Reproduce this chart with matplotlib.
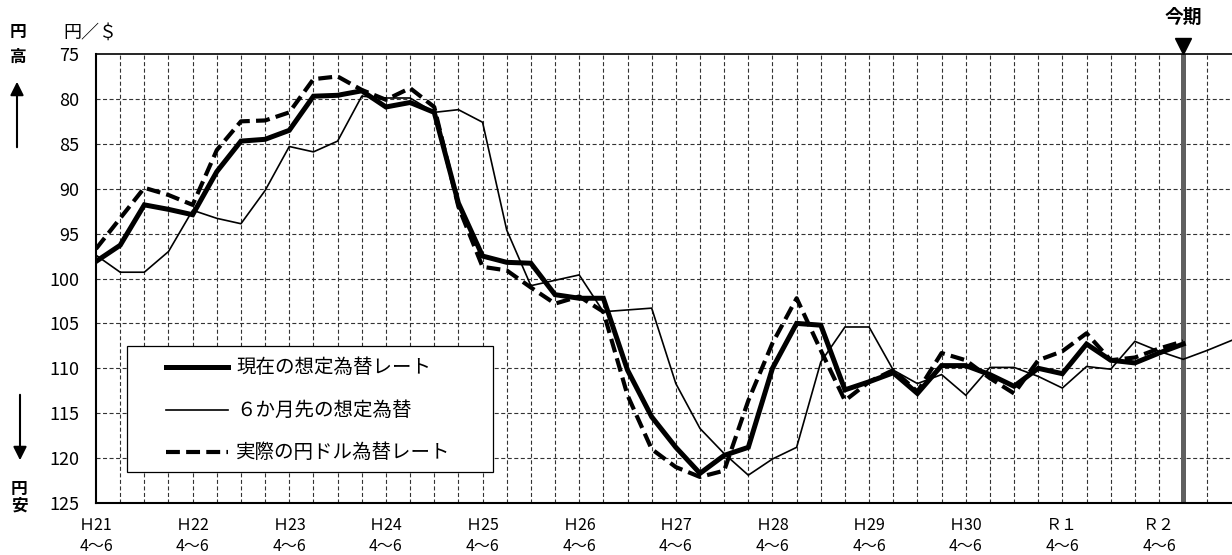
import matplotlib
matplotlib.use("Agg")
import matplotlib.pyplot as plt
from matplotlib.lines import Line2D
from matplotlib.patches import Rectangle

plt.rcParams['font.family'] = ['Noto Sans CJK JP', 'DejaVu Sans']
plt.rcParams['lines.scale_dashes'] = False

# ---- data (quarters from H21 4~6, index 0) ----
current_rate = [98.1, 96.3, 91.8, 92.3, 92.9, 88.1, 84.7, 84.5, 83.5, 79.7,
                79.6, 79.1, 80.9, 80.4, 81.5, 91.6, 97.5, 98.2, 98.3, 101.8,
                102.2, 102.2, 110.2, 115.4, 118.8, 121.7, 119.7, 118.8, 110.0, 105.0,
                105.2, 112.4, 111.5, 110.5, 112.8, 109.7, 109.7, 110.7, 112.0, 110.0,
                110.6, 107.3, 109.1, 109.4, 108.3, 107.3]
forecast_6m = [97.4, 99.3, 99.3, 97.0, 92.4, 93.3, 93.9, 90.2, 85.3, 85.9,
               84.7, 79.7, 79.9, 79.9, 81.5, 81.2, 82.6, 94.6, 100.8, 100.2,
               99.6, 103.7, 103.5, 103.3, 111.7, 116.7, 119.5, 121.9, 120.1, 118.8,
               109.3, 105.4, 105.4, 110.2, 111.7, 110.7, 113.0, 109.9, 109.9, 110.9,
               112.2, 109.8, 110.1, 107.0, 108.1, 109.0, 108.0, 106.9]
actual_rate = [96.7, 93.3, 89.9, 90.7, 91.8, 85.7, 82.5, 82.4, 81.5, 77.8,
               77.5, 79.0, 80.1, 78.8, 80.9, 92.0, 98.7, 99.1, 101.0, 102.8,
               102.0, 103.7, 113.0, 119.0, 121.0, 122.1, 121.4, 113.6, 107.2, 102.2,
               108.0, 113.6, 111.5, 110.2, 112.6, 108.3, 109.1, 111.1, 112.8, 109.1,
               108.1, 106.1, 109.1, 108.8, 107.8, 107.0]
tick_labels = ["Ｈ21\n4～6", "Ｈ22\n4～6", "Ｈ23\n4～6", "Ｈ24\n4～6", "Ｈ25\n4～6",
               "Ｈ26\n4～6", "Ｈ27\n4～6", "Ｈ28\n4～6", "Ｈ29\n4～6", "Ｈ30\n4～6",
               "Ｒ１\n4～6", "Ｒ２\n4～6"]
tick_positions = [0, 4, 8, 12, 16, 20, 24, 28, 32, 36, 40, 44]
current_period = 45
legend_labels = ["現在の想定為替レート", "６か月先の想定為替", "実際の円ドル為替レート"]

W, H = 1232, 555
fig = plt.figure(figsize=(W / 100, H / 100), dpi=100)
ax = fig.add_axes([96 / W, 1 - 503 / H, (1231.5 - 96) / W, (503 - 54) / H])

n_x = len(forecast_6m) - 1
ax.set_xlim(0, n_x)
ax.set_ylim(125, 75)

# grid
for k in range(1, n_x):
    ax.axvline(k, color='#333333', lw=0.8, dashes=(2.9, 1.8), zorder=1)
for v in range(80, 125, 5):
    ax.axhline(v, color='#333333', lw=0.8, dashes=(2.9, 1.8), zorder=1)

ax.axvline(current_period, color='#606060', lw=3.6, zorder=2)

x_cur = list(range(len(current_rate)))
x_fc = list(range(len(forecast_6m)))
x_act = list(range(len(actual_rate)))
ax.plot(x_fc, forecast_6m, color='black', lw=1.2, zorder=3, solid_joinstyle='miter')
ax.plot(x_act, actual_rate, color='black', lw=3.0, dashes=(10, 4.5), zorder=4)
ax.plot(x_cur, current_rate, color='black', lw=3.6, zorder=5, solid_joinstyle='miter')

ax.set_yticks(list(range(75, 126, 5)))
ax.set_xticks(tick_positions)
ax.set_xticklabels(tick_labels, fontsize=11.5, linespacing=1.35)
ax.tick_params(axis='y', length=0, pad=12, labelsize=13)
ax.tick_params(axis='x', length=0, pad=10)

for s in ['left', 'bottom']:
    ax.spines[s].set_linewidth(1.5)
ax.spines['top'].set_linewidth(1.2)
ax.spines['right'].set_visible(False)

# triangle marker for 今期
ax.plot([current_period], [75], marker='v', ms=12, color='black', clip_on=False,
        transform=ax.transData + matplotlib.transforms.ScaledTranslation(0, 8 / 100, fig.dpi_scale_trans),
        zorder=6)

# legend (manual, pixel-placed)
def axp(x, y):
    # figure pixel (top-left origin) -> axes fraction
    return ((x - 96) / (1231.5 - 96), (503 - y) / (503 - 54))

bx0, by0 = axp(127, 472)
bx1, by1 = axp(493, 346)
ax.add_patch(Rectangle((bx0, by0), bx1 - bx0, by1 - by0, transform=ax.transAxes,
                       facecolor='white', edgecolor='black', lw=0.9, zorder=7))
rows = [367, 410, 452]
styles = [dict(lw=3.6), dict(lw=1.2), dict(lw=3.0, dashes=(10, 4.5))]
for yy, st, lab in zip(rows, styles, legend_labels):
    xa, ya = axp(166, yy)
    xb, _ = axp(228, yy)
    ax.add_line(Line2D([xa, xb], [ya, ya], transform=ax.transAxes, color='black',
                       zorder=8, **st))
    xt, _ = axp(236, yy)
    ax.text(xt, ya, lab, transform=ax.transAxes, fontsize=14, va='center', ha='left', zorder=8)

# side annotations
def ft(x, y, s, **kw):
    fig.text(x / W, 1 - y / H, s, ha='center', va='center', **kw)

ft(90, 33, "円／＄", fontsize=13)
ft(18, 32, "円", fontsize=12, weight='bold')
ft(18, 57, "高", fontsize=12, weight='bold')
ft(19, 489, "円", fontsize=12, weight='bold')
ft(19, 506, "安", fontsize=12, weight='bold')
ft(1183, 17, "今期", fontsize=13.5, weight='bold')

ax.annotate('', xy=(17, H - 79), xytext=(17, H - 150), xycoords='figure pixels',
            textcoords='figure pixels',
            arrowprops=dict(arrowstyle='-|>', lw=1.5, color='black', mutation_scale=20))
ax.annotate('', xy=(20, H - 463), xytext=(20, H - 392), xycoords='figure pixels',
            textcoords='figure pixels',
            arrowprops=dict(arrowstyle='-|>', lw=1.5, color='black', mutation_scale=20))

fig.savefig("out.png", dpi=100)
